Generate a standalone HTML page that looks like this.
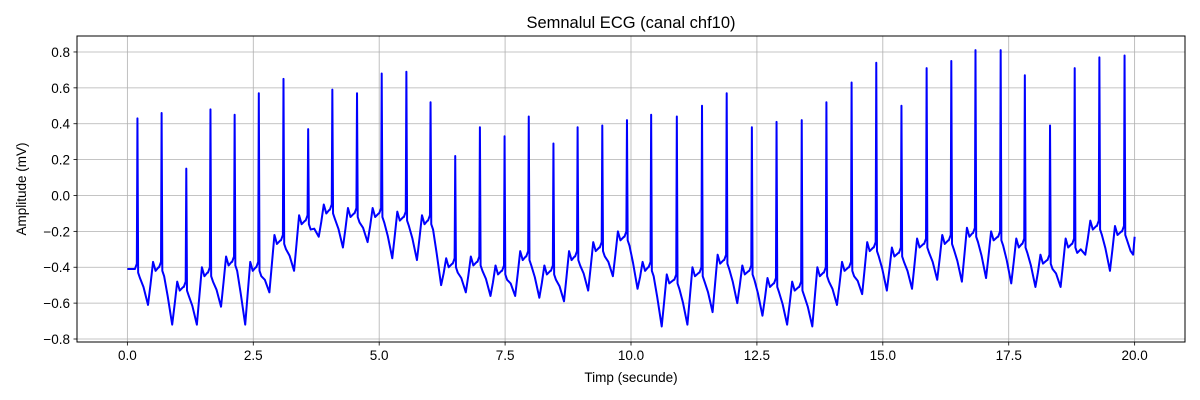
<!DOCTYPE html>
<html><head><meta charset="utf-8"><style>
html,body{margin:0;padding:0;background:#fff;}
svg{display:block;font-family:"Liberation Sans","DejaVu Sans",sans-serif;}
</style></head><body>
<svg id="chart" width="1200" height="400" viewBox="0 0 1200 400" xmlns="http://www.w3.org/2000/svg">
<rect width="1200" height="400" fill="#fff"/>
<text x="631" y="28" font-size="16.5" text-anchor="middle">Semnalul ECG (canal chf10)</text>
<text x="631" y="382" font-size="13.5" text-anchor="middle">Timp (secunde)</text>
<text x="26" y="189" font-size="13.5" text-anchor="middle" transform="rotate(-90 26 189)">Amplitude (mV)</text>
<g id="grid"></g>
<g id="ticks"></g>
<path id="ecg" fill="none" stroke="#0000ff" stroke-width="2" stroke-linejoin="round"/>
<rect x="77" y="36" width="1108" height="306" fill="none" stroke="#000" stroke-width="1"/>
</svg>
<script>
const rTimes=[0.20,0.68,1.17,1.65,2.13,2.61,3.10,3.59,4.07,4.56,5.05,5.54,6.02,6.51,7.00,7.49,7.97,8.46,8.94,9.43,9.92,10.40,10.91,11.41,11.90,12.40,12.89,13.39,13.88,14.38,14.87,15.37,15.87,16.36,16.84,17.34,17.82,18.32,18.81,19.30,19.80];
const rAmps=[0.43,0.46,0.15,0.48,0.45,0.57,0.65,0.37,0.59,0.57,0.68,0.69,0.52,0.22,0.38,0.33,0.44,0.29,0.38,0.39,0.42,0.45,0.44,0.50,0.57,0.38,0.41,0.42,0.52,0.63,0.74,0.50,0.71,0.75,0.81,0.81,0.67,0.39,0.71,0.77,0.78];
const preLevels=[-0.41,-0.40,-0.51,-0.43,-0.37,-0.40,-0.25,-0.14,-0.08,-0.10,-0.10,-0.12,-0.14,-0.38,-0.37,-0.42,-0.34,-0.42,-0.34,-0.29,-0.23,-0.40,-0.47,-0.43,-0.36,-0.42,-0.49,-0.51,-0.43,-0.40,-0.29,-0.32,-0.27,-0.25,-0.21,-0.23,-0.27,-0.36,-0.27,-0.17,-0.20];
const troughs=[-0.61,-0.72,-0.72,-0.62,-0.72,-0.54,-0.42,-0.23,-0.29,-0.26,-0.35,-0.36,-0.50,-0.54,-0.56,-0.56,-0.57,-0.59,-0.53,-0.45,-0.52,-0.73,-0.72,-0.65,-0.60,-0.67,-0.72,-0.73,-0.61,-0.55,-0.53,-0.52,-0.47,-0.48,-0.46,-0.49,-0.51,-0.51,-0.33,-0.42,-0.42];
const startValue=-0.41, endValue=-0.23, endTime=20.0;
const xTicks=[0,2.5,5,7.5,10,12.5,15,17.5,20];
const xTickLabels=["0.0","2.5","5.0","7.5","10.0","12.5","15.0","17.5","20.0"];
const yTicks=[-0.8,-0.6,-0.4,-0.2,0,0.2,0.4,0.6,0.8];
const yTickLabels=["−0.8","−0.6","−0.4","−0.2","0.0","0.2","0.4","0.6","0.8"];

const L=77,R=1185,T=36,B=342;
const xMin=-1,xMax=21,yMin=-0.8167,yMax=0.889;
const X=t=>L+(t-xMin)/(xMax-xMin)*(R-L);
const Y=v=>B-(v-yMin)/(yMax-yMin)*(B-T);
const NS="http://www.w3.org/2000/svg";
const grid=document.getElementById('grid'), ticks=document.getElementById('ticks');
function mk(tag,attrs,parent){const e=document.createElementNS(NS,tag);for(const k in attrs)e.setAttribute(k,attrs[k]);parent.appendChild(e);return e;}
xTicks.forEach((t,i)=>{
  const x=X(t);
  const g=mk('line',{x1:x,x2:x,y1:T,y2:B,stroke:'#b0b0b0','stroke-width':0.8},grid);
  
  
  const tk=mk('line',{x1:x,x2:x,y1:B,y2:B+3.5,stroke:'#000','stroke-width':0.8},ticks);
  
  
  const lb=mk('text',{x:x,y:B+18,'font-size':13.5,'text-anchor':'middle'},ticks);
  
  
  lb.textContent=xTickLabels[i];
});
yTicks.forEach((v,i)=>{
  const y=Y(v);
  const g=mk('line',{x1:L,x2:R,y1:y,y2:y,stroke:'#b0b0b0','stroke-width':0.8},grid);
  
  
  const tk=mk('line',{x1:L-3.5,x2:L,y1:y,y2:y,stroke:'#000','stroke-width':0.8},ticks);
  
  
  const lb=mk('text',{x:L-7,y:y+5,'font-size':13.5,'text-anchor':'end'},ticks);
  
  
  lb.textContent=yTickLabels[i];
});
// build the ECG trace from beat data
let pts=[[0,startValue]];
for(let i=0;i<rTimes.length;i++){
  const t=rTimes[i], pre=preLevels[i], tr=troughs[i];
  const next=i+1<preLevels.length?preLevels[i+1]:endValue;
  const nt=i+1<rTimes.length?rTimes[i+1]:endTime+0.5;
  pts.push([t-0.05,pre]);
  pts.push([t-0.012,pre+0.03]);
  pts.push([t,rAmps[i]]);
  pts.push([t+0.014,pre-0.02]);
  pts.push([t+0.05,pre-0.05]);
  pts.push([t+0.12,pre+(tr-pre)*0.5]);
  pts.push([t+0.21,tr]);
  pts.push([t+0.26,tr+(next-tr)*0.55]);
  pts.push([t+0.31,next+0.03]);
  pts.push([t+0.36,next-0.02]);
  pts.push([Math.max(t+0.4,nt-0.06),next]);
}
pts=pts.filter(p=>p[0]<endTime);
pts.push([endTime-0.03,endValue-0.1]);
pts.push([endTime,endValue]);
document.getElementById('ecg').setAttribute('d',pts.map((p,i)=>(i?'L':'M')+X(p[0]).toFixed(2)+' '+Y(p[1]).toFixed(2)).join(' '));
</script>
</body></html>
